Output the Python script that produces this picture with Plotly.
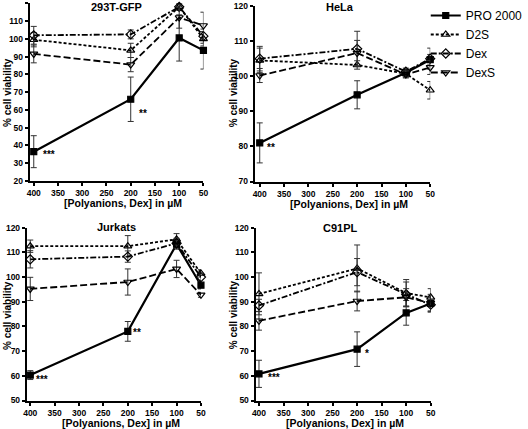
import plotly.graph_objects as go

conc = [400, 200, 100, 50]
x_ticks = [400, 350, 300, 250, 200, 150, 100, 50]
series_names = ["PRO 2000", "D2S", "Dex", "DexS"]
panel_titles = ["293T-GFP", "HeLa", "Jurkats", "C91PL"]

# 293T-GFP
gfp_pro = [36.5, 66.0, 100.5, 93.5]
gfp_pro_err = [9.0, 12.5, 13.0, 10.5]
gfp_d2s = [99.5, 93.5, 118.0, 100.0]
gfp_d2s_err = [4.0, 4.0, 2.0, 4.0]
gfp_dex = [102.0, 102.5, 118.0, 101.5]
gfp_dex_err = [5.0, 2.5, 1.5, 4.0]
gfp_dexs = [91.5, 85.5, 112.0, 107.5]
gfp_dexs_err = [5.0, 4.0, 6.0, 7.5]

# HeLa
hela_pro = [81.0, 94.7, 101.0, 104.7]
hela_pro_err = [5.7, 4.0, 1.0, 1.5]
hela_d2s = [104.5, 103.2, 100.7, 96.0]
hela_d2s_err = [3.5, 1.2, 1.0, 2.5]
hela_dex = [105.0, 107.8, 101.3, 105.0]
hela_dex_err = [3.5, 5.0, 1.0, 3.0]
hela_dexs = [100.2, 106.6, 100.5, 102.5]
hela_dexs_err = [2.0, 3.6, 1.0, 2.0]

# Jurkats
jur_pro = [60.3, 78.0, 113.3, 96.7]
jur_pro_err = [1.8, 4.0, 2.0, 1.5]
jur_d2s = [112.5, 112.5, 115.3, 101.5]
jur_d2s_err = [2.5, 4.3, 2.3, 1.5]
jur_dex = [107.2, 108.3, 113.7, 100.0]
jur_dex_err = [3.5, 2.3, 2.0, 1.5]
jur_dexs = [95.2, 98.0, 103.3, 92.8]
jur_dexs_err = [4.7, 5.3, 3.5, 1.0]

# C91PL
c91_pro = [60.8, 70.8, 85.5, 89.3]
c91_pro_err = [5.5, 7.0, 5.0, 3.0]
c91_d2s = [93.2, 103.5, 93.5, 91.8]
c91_d2s_err = [8.5, 9.5, 5.5, 3.5]
c91_dex = [88.5, 102.0, 93.0, 88.8]
c91_dex_err = [2.5, 5.5, 5.0, 3.0]
c91_dexs = [82.3, 90.3, 91.8, 89.5]
c91_dexs_err = [3.8, 4.0, 3.5, 3.5]

panels = [
    [(gfp_pro, gfp_pro_err), (gfp_d2s, gfp_d2s_err), (gfp_dex, gfp_dex_err), (gfp_dexs, gfp_dexs_err)],
    [(hela_pro, hela_pro_err), (hela_d2s, hela_d2s_err), (hela_dex, hela_dex_err), (hela_dexs, hela_dexs_err)],
    [(jur_pro, jur_pro_err), (jur_d2s, jur_d2s_err), (jur_dex, jur_dex_err), (jur_dexs, jur_dexs_err)],
    [(c91_pro, c91_pro_err), (c91_d2s, c91_d2s_err), (c91_dex, c91_dex_err), (c91_dexs, c91_dexs_err)],
]

# significance labels: (panel, x, y, text)
stars = [
    (0, 369, 35.0, "***"), (0, 175, 58.0, "**"),
    (1, 377, 79.8, "**"),
    (2, 375, 58.7, "***"), (2, 181, 77.5, "**"), (2, 28, 92.0, "**"),
    (3, 370, 59.5, "***"), (3, 179, 69.0, "*"),
]

W, H = 528, 429
def px(v): return v / W
def py(v): return 1 - v / H

geo = [
    dict(l=30, r=205, t=3.3, b=181, xr=[408.2, 50], yr=[20, 120]),
    dict(l=256.7, r=433.5, t=6, b=181.5, xr=[410.2, 50], yr=[70, 120]),
    dict(l=27, r=202.5, t=227.7, b=400.5, xr=[407.1, 50], yr=[50, 120]),
    dict(l=257.5, r=434, t=227.7, b=400.5, xr=[407.0, 50], yr=[50, 120]),
]

styles = [
    dict(dash="solid", width=2.2, symbol="square", size=6),
    dict(dash="3px,2px", width=1.8, symbol="triangle-up-open", size=7),
    dict(dash="6px,2px,2px,2px", width=1.8, symbol="diamond-open", size=7),
    dict(dash="7px,3px", width=1.8, symbol="triangle-down-open", size=7),
]

fig = go.Figure()
font_fam = "Arial, Liberation Sans, sans-serif"

for p, data in enumerate(panels):
    xa = "x" if p == 0 else f"x{p+1}"
    ya = "y" if p == 0 else f"y{p+1}"
    for s, (vals, errs) in enumerate(data):
        st = styles[s]
        fig.add_trace(go.Scatter(
            x=conc, y=vals, xaxis=xa, yaxis=ya,
            mode="lines+markers", name=series_names[s],
            showlegend=(p == 0), cliponaxis=False,
            line=dict(color="black", width=st["width"], dash=st["dash"]),
            marker=dict(symbol=st["symbol"], size=st["size"], color="black",
                        line=dict(color="black", width=1.2)),
            error_y=dict(type="data", array=errs, visible=True,
                         color="#333333", thickness=1, width=3),
        ))

layout = dict(
    template="none",
    width=W, height=H, margin=dict(l=0, r=0, t=0, b=0),
    paper_bgcolor="white", plot_bgcolor="white",
    font=dict(family=font_fam, color="black"),
    legend=dict(x=px(429), y=py(1), xanchor="left", yanchor="top",
                font=dict(size=12, family=font_fam), tracegroupgap=0,
                itemwidth=30, bgcolor="rgba(0,0,0,0)", borderwidth=0),
    annotations=[],
)

for p, g in enumerate(geo):
    k = "" if p == 0 else str(p + 1)
    layout["xaxis" + k] = dict(
        domain=[px(g["l"]), px(g["r"])], range=g["xr"], anchor="y" + k,
        automargin=False,
        tickvals=x_ticks, ticks="outside", ticklen=3, tickwidth=1.5, tickcolor="black",
        showline=True, linewidth=2, linecolor="black", showgrid=False, zeroline=False,
        tickfont=dict(size=8.5, family=font_fam, weight="bold"),
    )
    layout["yaxis" + k] = dict(
        domain=[py(g["b"]), py(g["t"])], range=g["yr"], anchor="x" + k,
        automargin=False,
        dtick=10, ticks="outside", ticklen=3, tickwidth=1.5, tickcolor="black",
        showline=True, linewidth=2, linecolor="black", showgrid=False, zeroline=False,
        tickfont=dict(size=8.5, family=font_fam, weight="bold"),
    )

fig.update_layout(**layout)

title_pos = [(117, 7), (343, 7), (117, 227), (343, 228)]
xt_pos = [(124, 203), (352, 203.5), (122, 423), (348, 423)]
yt_pos = [(7, 92), (235, 93), (7, 315), (235, 315)]
for p in range(4):
    fig.add_annotation(x=px(title_pos[p][0]), y=py(title_pos[p][1]), xref="paper", yref="paper",
                       text=f"<b>{panel_titles[p]}</b>", showarrow=False,
                       font=dict(size=11, family=font_fam), xanchor="center", yanchor="middle")
    fig.add_annotation(x=px(xt_pos[p][0]), y=py(xt_pos[p][1]), xref="paper", yref="paper",
                       text="<b>[Polyanions, Dex] in µM</b>", showarrow=False,
                       font=dict(size=10.5, family=font_fam), xanchor="center", yanchor="middle")
    fig.add_annotation(x=px(yt_pos[p][0]), y=py(yt_pos[p][1]), xref="paper", yref="paper",
                       text="<b>% cell viability</b>", showarrow=False, textangle=-90,
                       font=dict(size=10, family=font_fam), xanchor="center", yanchor="middle")

for p, xv, yv, t in stars:
    k = "" if p == 0 else str(p + 1)
    fig.add_annotation(x=xv, y=yv, xref="x" + k, yref="y" + k, text=f"<b>{t}</b>",
                       showarrow=False, font=dict(size=10, family=font_fam),
                       xanchor="center", yanchor="middle")

fig.write_html("out.html", config={"displayModeBar": False},
               post_script="document.body.style.margin='0';document.body.style.overflow='hidden';")
